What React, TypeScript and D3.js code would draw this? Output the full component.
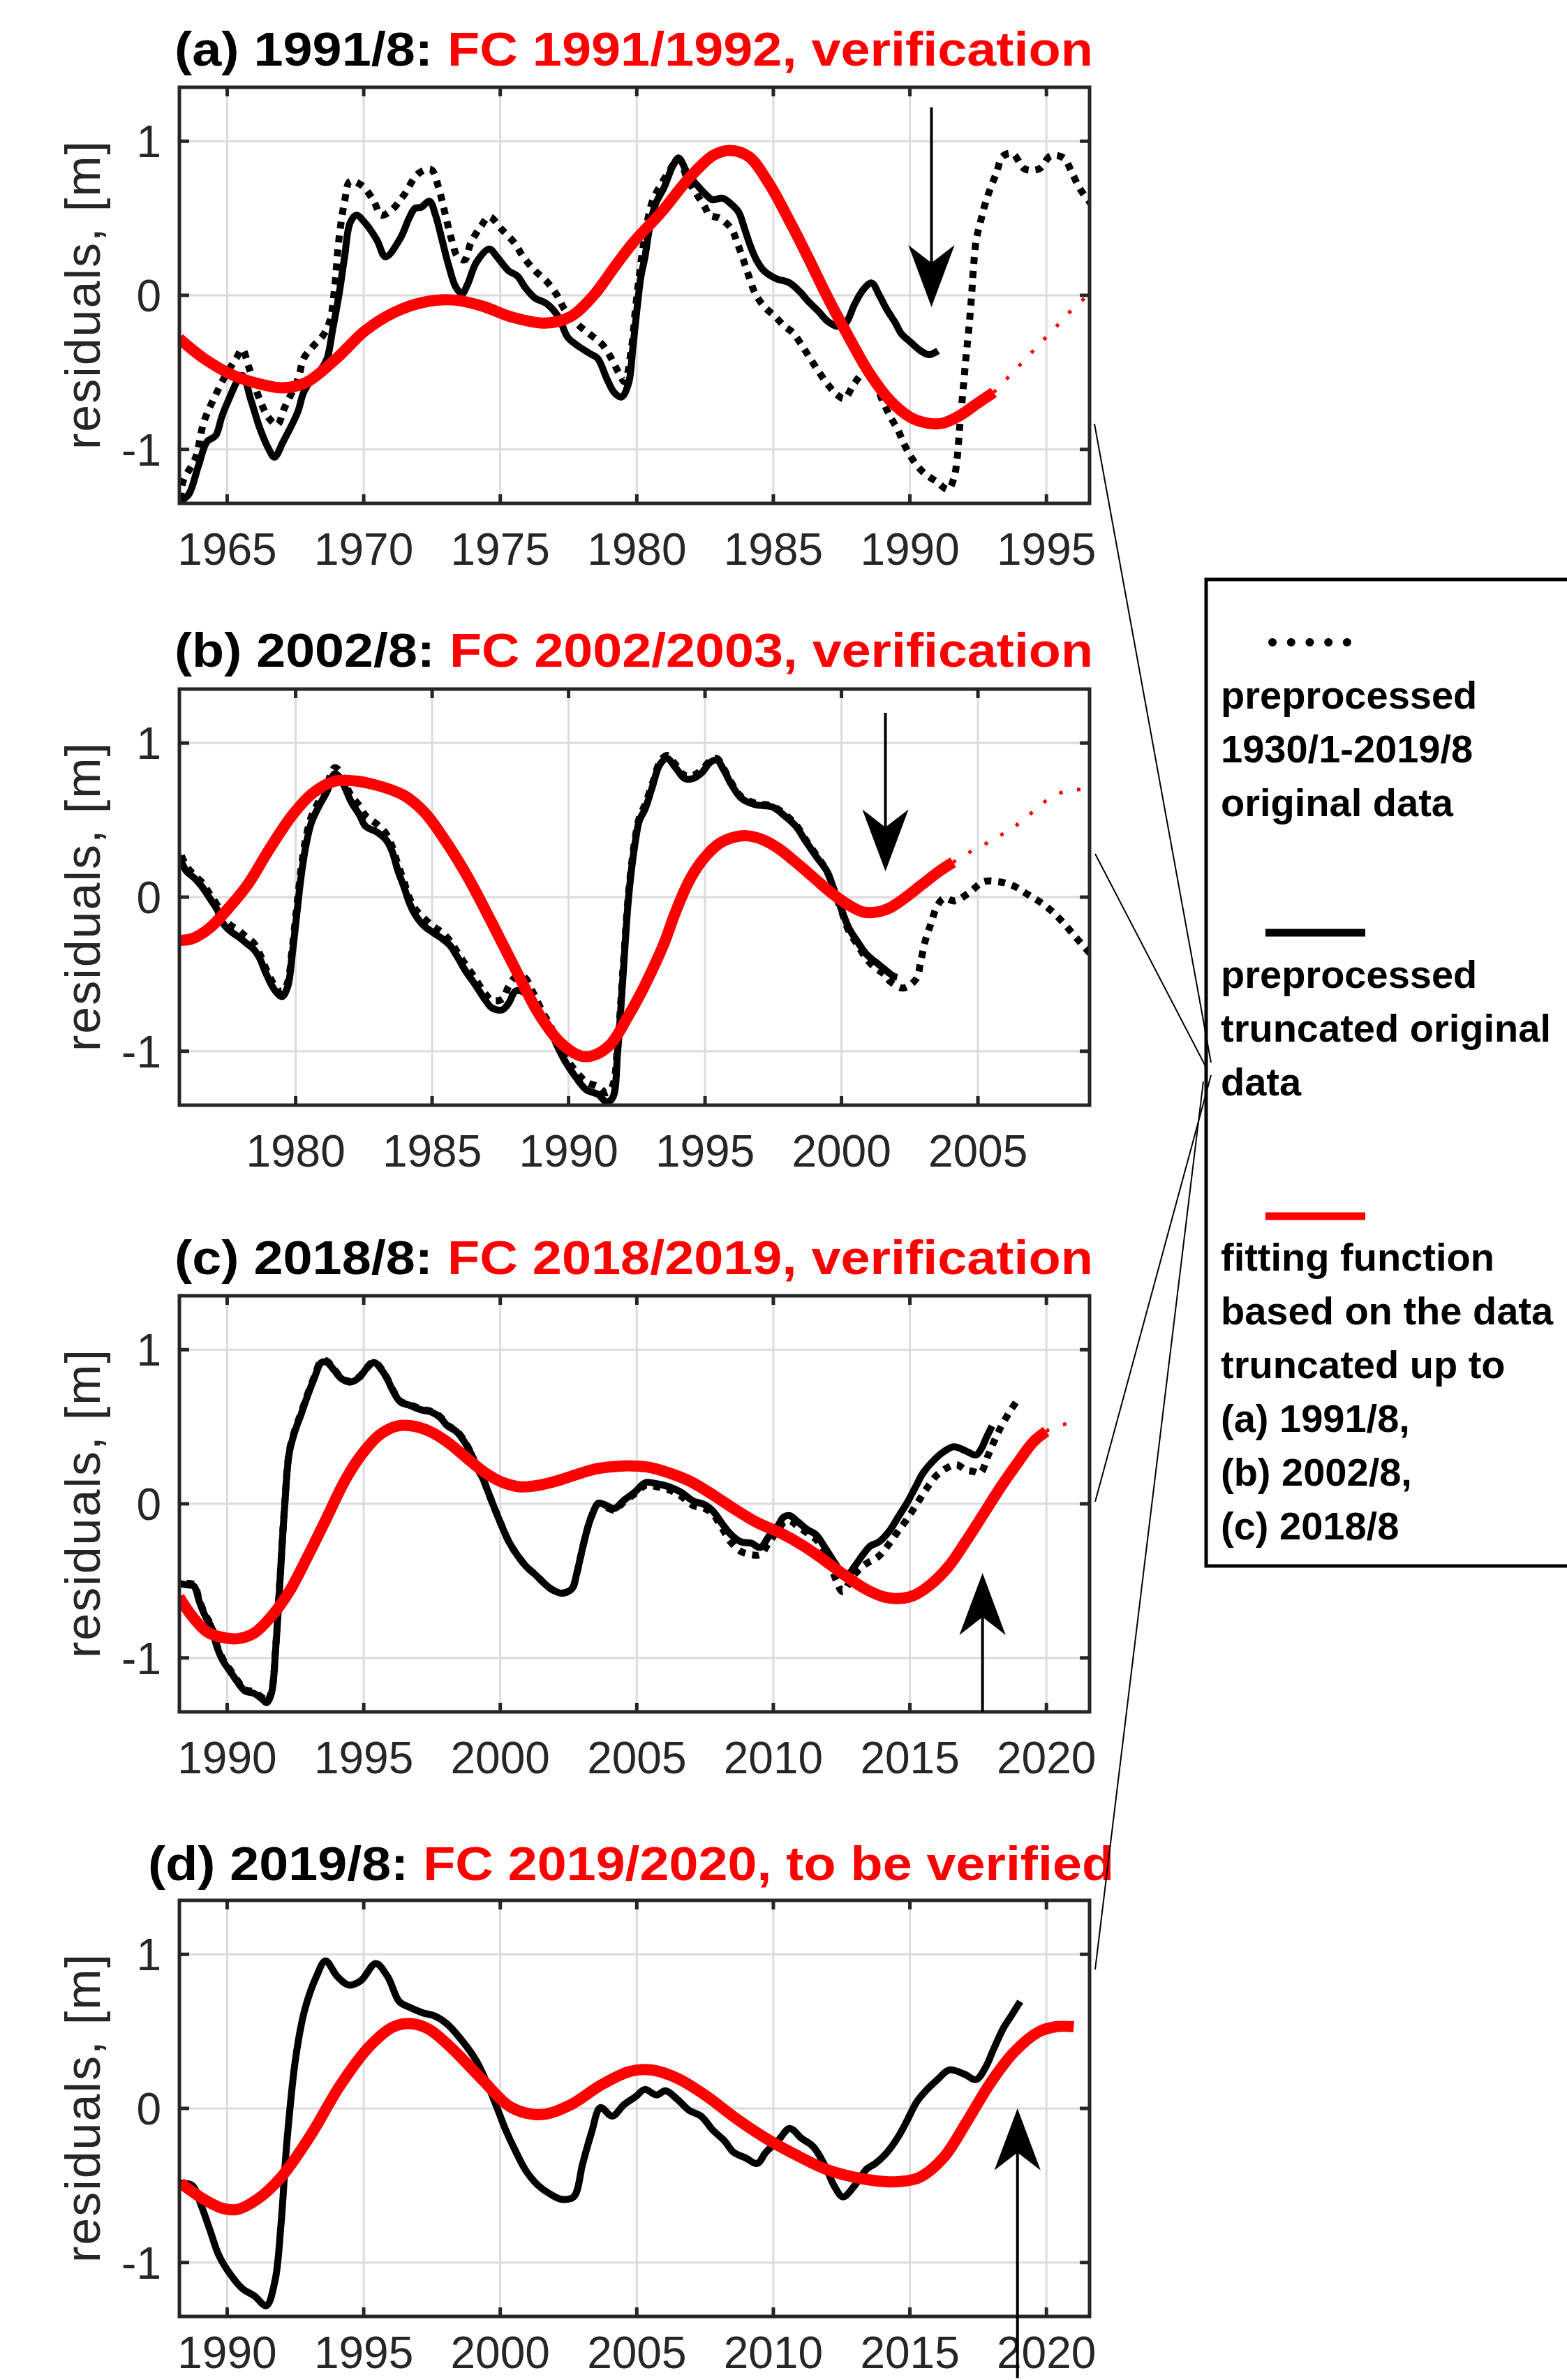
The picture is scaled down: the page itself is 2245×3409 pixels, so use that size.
import React from 'react';
import * as d3 from 'd3';

type P = [number, number];

// ---------------- DATA ----------------
const titleBlack = ['(a) 1991/8: ', '(b) 2002/8: ', '(c) 2018/8: ', '(d) 2019/8: '];
const titleRed = ['FC 1991/1992, verification', 'FC 2002/2003, verification', 'FC 2018/2019, verification', 'FC 2019/2020, to be verified'];

const xTicksA = [1965, 1970, 1975, 1980, 1985, 1990, 1995];
const xTicksB = [1980, 1985, 1990, 1995, 2000, 2005];
const xTicksCD = [1990, 1995, 2000, 2005, 2010, 2015, 2020];
const yTicks = [-1, 0, 1];

// panel (a)
const aFull: P[] = [[1963.0,-1.40],[1963.24,-1.34],[1963.4,-1.20],[1963.83,-1.06],[1964.15,-0.82],[1964.58,-0.645],[1965.0,-0.50],[1965.33,-0.41],[1965.55,-0.35],[1965.8,-0.47],[1966.2,-0.68],[1966.5,-0.79],[1966.83,-0.84],[1967.1,-0.73],[1967.6,-0.54],[1967.8,-0.41],[1968.1,-0.34],[1968.55,-0.25],[1968.77,-0.16],[1968.93,0.04],[1969.09,0.36],[1969.3,0.61],[1969.5,0.74],[1969.95,0.71],[1970.37,0.61],[1970.64,0.52],[1971.0,0.55],[1971.45,0.645],[1972.0,0.79],[1972.47,0.815],[1972.74,0.70],[1972.9,0.59],[1973.06,0.47],[1973.22,0.36],[1973.44,0.25],[1973.7,0.23],[1973.92,0.34],[1974.3,0.45],[1974.6,0.51],[1975.04,0.43],[1975.52,0.34],[1975.84,0.25],[1976.27,0.16],[1976.7,0.09],[1977.08,0.0],[1977.35,-0.09],[1977.78,-0.18],[1978.26,-0.25],[1978.74,-0.32],[1979.07,-0.41],[1979.33,-0.50],[1979.55,-0.56],[1979.8,-0.35],[1979.95,-0.09],[1980.1,0.14],[1980.3,0.39],[1980.57,0.61],[1980.89,0.72],[1981.2,0.81],[1981.53,0.89],[1981.86,0.75],[1982.18,0.66],[1982.5,0.57],[1982.66,0.52],[1983.04,0.50],[1983.47,0.43],[1983.68,0.34],[1983.9,0.23],[1984.1,0.125],[1984.32,0.018],[1984.65,-0.07],[1985.08,-0.14],[1985.4,-0.20],[1985.7,-0.24],[1986.03,-0.32],[1986.35,-0.41],[1986.68,-0.50],[1987.0,-0.58],[1987.33,-0.645],[1987.6,-0.67],[1987.97,-0.57],[1988.35,-0.50],[1988.72,-0.56],[1988.94,-0.66],[1989.26,-0.78],[1989.58,-0.88],[1989.8,-0.97],[1990.12,-1.07],[1990.5,-1.15],[1990.98,-1.21],[1991.4,-1.26],[1991.62,-1.18],[1991.73,-1.06],[1991.83,-0.84],[1991.94,-0.63],[1992.05,-0.41],[1992.16,-0.215],[1992.26,0.0],[1992.32,0.16],[1992.43,0.36],[1992.59,0.48],[1992.75,0.59],[1992.96,0.70],[1993.18,0.80],[1993.39,0.90],[1993.76,0.92],[1994.2,0.82],[1994.73,0.82],[1995.16,0.905],[1995.64,0.89],[1995.9,0.81],[1996.23,0.69],[1996.7,0.58]];
const aTrunc: P[] = [[1963.0,-1.42],[1963.3,-1.34],[1963.6,-1.29],[1963.94,-1.11],[1964.26,-0.95],[1964.58,-0.91],[1964.8,-0.79],[1965.0,-0.70],[1965.55,-0.52],[1965.87,-0.68],[1966.19,-0.86],[1966.5,-0.99],[1966.73,-1.05],[1967.05,-0.95],[1967.37,-0.84],[1967.6,-0.75],[1967.8,-0.63],[1968.12,-0.54],[1968.44,-0.48],[1968.66,-0.41],[1968.87,-0.215],[1969.09,0.0],[1969.3,0.25],[1969.5,0.47],[1969.73,0.52],[1970.05,0.47],[1970.48,0.36],[1970.8,0.25],[1971.34,0.37],[1971.66,0.50],[1971.88,0.565],[1972.09,0.57],[1972.41,0.61],[1972.63,0.52],[1972.84,0.38],[1973.1,0.20],[1973.37,0.054],[1973.6,0.01],[1973.8,0.07],[1974.13,0.215],[1974.6,0.30],[1974.88,0.25],[1975.3,0.16],[1975.63,0.125],[1975.9,0.054],[1976.27,-0.018],[1976.7,-0.054],[1977.13,-0.14],[1977.46,-0.27],[1977.78,-0.32],[1978.3,-0.38],[1978.57,-0.41],[1978.9,-0.54],[1979.17,-0.63],[1979.44,-0.66],[1979.7,-0.57],[1979.85,-0.35],[1980.0,-0.10],[1980.15,0.12],[1980.3,0.25],[1980.46,0.43],[1980.68,0.59],[1981.0,0.70],[1981.32,0.84],[1981.53,0.89],[1981.86,0.79],[1982.18,0.72],[1982.55,0.65],[1982.77,0.62],[1983.14,0.63],[1983.47,0.59],[1983.73,0.54],[1983.95,0.43],[1984.16,0.32],[1984.38,0.23],[1984.65,0.16],[1985.08,0.11],[1985.6,0.08],[1986.0,0.018],[1986.26,-0.036],[1986.63,-0.10],[1987.0,-0.17],[1987.33,-0.20],[1987.65,-0.18],[1987.97,-0.06],[1988.29,0.036],[1988.6,0.08],[1988.88,0.0],[1989.15,-0.09],[1989.47,-0.18],[1989.69,-0.25],[1990.0,-0.30],[1990.39,-0.36],[1990.7,-0.385],[1991.03,-0.36]];
const aFit: P[] = [[1963.24,-0.28],[1964.15,-0.41],[1965.23,-0.52],[1966.3,-0.58],[1967.05,-0.60],[1967.9,-0.565],[1969.0,-0.41],[1970.05,-0.23],[1971.13,-0.11],[1972.2,-0.045],[1973.27,-0.03],[1974.35,-0.07],[1975.4,-0.14],[1976.65,-0.18],[1977.56,-0.14],[1978.42,0.0],[1979.17,0.18],[1979.86,0.34],[1980.9,0.54],[1981.96,0.77],[1982.82,0.91],[1983.41,0.94],[1984.1,0.90],[1984.86,0.72],[1985.6,0.48],[1986.26,0.25],[1987.0,-0.018],[1987.76,-0.27],[1988.5,-0.50],[1989.26,-0.68],[1990.0,-0.79],[1990.65,-0.83],[1991.19,-0.83],[1991.83,-0.78],[1992.48,-0.70],[1993.07,-0.63]];
const aFitExt: P[] = [[1993.07,-0.63],[1993.77,-0.50],[1994.2,-0.42],[1994.62,-0.34],[1995.05,-0.26],[1995.48,-0.18],[1995.9,-0.10],[1996.4,-0.018],[1996.58,0.01]];

// panel (b)
const bFull: P[] = [[1975.5,0.34],[1975.72,0.30],[1976.0,0.20],[1976.3,0.14],[1976.6,0.09],[1976.85,0.02],[1977.12,-0.05],[1977.34,-0.13],[1977.6,-0.18],[1977.93,-0.22],[1978.2,-0.26],[1978.47,-0.30],[1978.69,-0.37],[1978.9,-0.46],[1979.22,-0.57],[1979.5,-0.62],[1979.71,-0.55],[1979.87,-0.34],[1980.03,-0.08],[1980.19,0.17],[1980.36,0.37],[1980.57,0.52],[1980.84,0.62],[1981.16,0.74],[1981.43,0.84],[1981.6,0.82],[1981.81,0.74],[1982.03,0.66],[1982.35,0.59],[1982.56,0.53],[1983.0,0.47],[1983.32,0.41],[1983.53,0.33],[1983.75,0.21],[1983.97,0.10],[1984.18,-0.01],[1984.4,-0.08],[1984.72,-0.14],[1985.04,-0.19],[1985.37,-0.23],[1985.64,-0.28],[1985.9,-0.35],[1986.23,-0.44],[1986.55,-0.52],[1986.88,-0.61],[1987.2,-0.67],[1987.58,-0.66],[1987.8,-0.58],[1988.06,-0.52],[1988.38,-0.52],[1988.7,-0.62],[1989.03,-0.74],[1989.35,-0.84],[1989.57,-0.93],[1989.89,-1.04],[1990.27,-1.13],[1990.65,-1.20],[1991.08,-1.23],[1991.4,-1.27],[1991.62,-1.22],[1991.8,-0.95],[1992.0,-0.45],[1992.2,0.03],[1992.42,0.36],[1992.6,0.52],[1992.8,0.60],[1993.06,0.73],[1993.33,0.87],[1993.6,0.92],[1993.92,0.86],[1994.25,0.79],[1994.57,0.79],[1994.9,0.83],[1995.16,0.88],[1995.43,0.90],[1995.7,0.83],[1995.97,0.74],[1996.34,0.65],[1996.83,0.61],[1997.47,0.59],[1997.9,0.54],[1998.33,0.47],[1998.66,0.38],[1999.09,0.27],[1999.46,0.17],[1999.73,0.04],[2000.0,-0.09],[2000.27,-0.22],[2000.59,-0.31],[2000.91,-0.40],[2001.24,-0.46],[2001.56,-0.50],[2001.8,-0.55],[2002.26,-0.59],[2002.74,-0.53],[2002.9,-0.42],[2003.06,-0.29],[2003.28,-0.17],[2003.5,-0.06],[2003.76,-0.007],[2004.14,-0.025],[2004.68,0.029],[2005.2,0.10],[2005.75,0.10],[2006.29,0.074],[2006.88,0.011],[2007.37,-0.043],[2007.8,-0.106],[2008.23,-0.187],[2008.66,-0.276],[2009.03,-0.35],[2009.3,-0.40]];
const bTrunc: P[] = [[1975.5,0.30],[1975.72,0.26],[1975.99,0.17],[1976.31,0.12],[1976.58,0.065],[1976.85,-0.007],[1977.12,-0.08],[1977.34,-0.17],[1977.6,-0.22],[1977.93,-0.26],[1978.2,-0.30],[1978.47,-0.34],[1978.69,-0.40],[1978.9,-0.49],[1979.22,-0.60],[1979.5,-0.645],[1979.71,-0.58],[1979.87,-0.38],[1980.03,-0.13],[1980.19,0.12],[1980.36,0.32],[1980.57,0.48],[1980.84,0.585],[1981.16,0.69],[1981.43,0.80],[1981.6,0.78],[1981.81,0.71],[1982.03,0.62],[1982.35,0.53],[1982.56,0.46],[1983.0,0.42],[1983.32,0.37],[1983.53,0.30],[1983.75,0.17],[1983.97,0.065],[1984.18,-0.043],[1984.4,-0.12],[1984.72,-0.19],[1985.04,-0.23],[1985.37,-0.27],[1985.64,-0.31],[1985.9,-0.38],[1986.23,-0.48],[1986.55,-0.56],[1986.88,-0.65],[1987.2,-0.72],[1987.58,-0.73],[1987.8,-0.69],[1988.06,-0.61],[1988.38,-0.62],[1988.7,-0.69],[1989.03,-0.78],[1989.35,-0.87],[1989.57,-0.96],[1989.89,-1.07],[1990.27,-1.17],[1990.65,-1.25],[1991.08,-1.28],[1991.4,-1.33],[1991.62,-1.30],[1991.8,-1.0],[1992.0,-0.5],[1992.2,0.0],[1992.42,0.33],[1992.6,0.50],[1992.8,0.57],[1993.06,0.71],[1993.33,0.855],[1993.6,0.90],[1993.92,0.84],[1994.25,0.77],[1994.57,0.77],[1994.9,0.81],[1995.16,0.87],[1995.43,0.89],[1995.7,0.82],[1995.97,0.73],[1996.34,0.64],[1996.83,0.60],[1997.47,0.585],[1997.9,0.53],[1998.33,0.46],[1998.66,0.37],[1999.09,0.26],[1999.46,0.17],[1999.73,0.047],[2000.0,-0.08],[2000.27,-0.20],[2000.59,-0.29],[2000.91,-0.37],[2001.24,-0.42],[2001.56,-0.465],[2001.88,-0.51],[2002.04,-0.52]];
const bFit: P[] = [[1975.72,-0.28],[1976.2,-0.27],[1976.85,-0.20],[1977.5,-0.08],[1978.25,0.083],[1979.0,0.30],[1979.87,0.53],[1980.63,0.675],[1981.38,0.75],[1982.03,0.756],[1982.89,0.73],[1983.97,0.66],[1984.72,0.55],[1985.47,0.37],[1986.34,0.12],[1987.2,-0.17],[1988.06,-0.47],[1988.92,-0.76],[1989.68,-0.94],[1990.43,-1.03],[1990.86,-1.03],[1991.51,-0.96],[1992.16,-0.78],[1992.6,-0.64],[1993.1,-0.46],[1993.5,-0.30],[1993.92,-0.097],[1994.46,0.12],[1995.0,0.26],[1995.54,0.35],[1996.08,0.39],[1996.6,0.397],[1997.15,0.37],[1997.69,0.316],[1998.33,0.226],[1998.98,0.127],[1999.62,0.029],[2000.27,-0.052],[2000.8,-0.097],[2001.29,-0.097],[2001.77,-0.07],[2002.31,-0.007],[2002.96,0.083],[2003.6,0.17],[2004.09,0.226]];
const bFitExt: P[] = [[2004.09,0.226],[2004.57,0.28],[2005.16,0.334],[2005.7,0.388],[2006.18,0.44],[2006.67,0.50],[2007.2,0.585],[2007.69,0.648],[2008.28,0.69],[2008.92,0.70],[2009.09,0.70]];

// panel (c)
const cTrunc: P[] = [[1988.0,-0.51],[1988.24,-0.516],[1988.5,-0.525],[1988.78,-0.534],[1988.99,-0.64],[1989.2,-0.73],[1989.42,-0.80],[1989.63,-0.93],[1989.85,-1.02],[1990.12,-1.09],[1990.39,-1.16],[1990.66,-1.215],[1990.98,-1.23],[1991.3,-1.27],[1991.45,-1.29],[1991.62,-1.23],[1991.78,-0.93],[1991.94,-0.48],[1992.1,-0.03],[1992.27,0.326],[1992.48,0.47],[1992.7,0.577],[1992.91,0.685],[1993.18,0.81],[1993.45,0.917],[1993.66,0.917],[1993.93,0.864],[1994.2,0.81],[1994.52,0.79],[1994.84,0.82],[1995.11,0.88],[1995.38,0.917],[1995.65,0.87],[1995.86,0.81],[1996.08,0.73],[1996.35,0.66],[1996.67,0.64],[1997.1,0.61],[1997.48,0.595],[1997.8,0.56],[1998.07,0.505],[1998.39,0.47],[1998.66,0.41],[1998.93,0.326],[1999.14,0.237],[1999.36,0.165],[1999.68,0.02],[2000.0,-0.12],[2000.32,-0.247],[2000.64,-0.337],[2000.97,-0.41],[2001.29,-0.46],[2001.61,-0.516],[2001.93,-0.56],[2002.26,-0.58],[2002.63,-0.55],[2002.79,-0.46],[2002.95,-0.337],[2003.12,-0.21],[2003.33,-0.086],[2003.6,0.004],[2003.81,-0.005],[2004.19,-0.03],[2004.51,0.02],[2004.92,0.075],[2005.33,0.138],[2005.76,0.129],[2006.19,0.11],[2006.62,0.075],[2007.05,0.02],[2007.48,-0.005],[2007.8,-0.05],[2008.13,-0.13],[2008.45,-0.20],[2008.82,-0.247],[2009.2,-0.256],[2009.52,-0.283],[2009.84,-0.21],[2010.17,-0.14],[2010.38,-0.086],[2010.6,-0.077],[2010.92,-0.12],[2011.24,-0.167],[2011.56,-0.20],[2011.89,-0.283],[2012.21,-0.373],[2012.48,-0.444],[2012.64,-0.48],[2012.96,-0.41],[2013.28,-0.33],[2013.55,-0.274],[2013.87,-0.247],[2014.25,-0.176],[2014.57,-0.086],[2014.89,0.004],[2015.21,0.11],[2015.48,0.20],[2015.86,0.28],[2016.29,0.344],[2016.61,0.37],[2017.04,0.344],[2017.42,0.317],[2017.63,0.362],[2017.79,0.425],[2018.01,0.505]];
const cFull: P[] = [[1988.0,-0.50],[1988.24,-0.506],[1988.5,-0.515],[1988.78,-0.524],[1988.99,-0.63],[1989.2,-0.72],[1989.42,-0.79],[1989.63,-0.92],[1989.85,-1.01],[1990.12,-1.08],[1990.39,-1.15],[1990.66,-1.205],[1990.98,-1.22],[1991.3,-1.26],[1991.45,-1.28],[1991.62,-1.22],[1991.78,-0.92],[1991.94,-0.47],[1992.1,-0.02],[1992.27,0.336],[1992.48,0.48],[1992.7,0.587],[1992.91,0.695],[1993.18,0.82],[1993.45,0.927],[1993.66,0.925],[1993.93,0.87],[1994.2,0.815],[1994.52,0.795],[1994.84,0.825],[1995.11,0.885],[1995.38,0.922],[1995.65,0.875],[1995.86,0.815],[1996.08,0.735],[1996.35,0.665],[1996.67,0.645],[1997.1,0.615],[1997.48,0.60],[1997.8,0.565],[1998.07,0.51],[1998.39,0.475],[1998.66,0.415],[1998.93,0.33],[1999.14,0.24],[1999.36,0.165],[1999.68,0.02],[2000.0,-0.12],[2000.32,-0.247],[2000.64,-0.337],[2000.97,-0.41],[2001.29,-0.46],[2001.61,-0.516],[2001.93,-0.56],[2002.26,-0.58],[2002.63,-0.55],[2002.79,-0.46],[2002.95,-0.337],[2003.12,-0.21],[2003.33,-0.086],[2003.6,0.004],[2003.81,-0.015],[2004.19,-0.04],[2004.51,0.01],[2004.92,0.065],[2005.33,0.12],[2005.76,0.11],[2006.19,0.09],[2006.62,0.05],[2007.05,-0.01],[2007.48,-0.03],[2007.8,-0.07],[2008.13,-0.16],[2008.45,-0.25],[2008.82,-0.31],[2009.2,-0.33],[2009.52,-0.33],[2009.84,-0.25],[2010.17,-0.17],[2010.38,-0.12],[2010.6,-0.11],[2010.92,-0.15],[2011.24,-0.19],[2011.56,-0.23],[2011.89,-0.31],[2012.1,-0.40],[2012.31,-0.50],[2012.53,-0.57],[2012.96,-0.46],[2013.39,-0.39],[2013.82,-0.346],[2014.14,-0.283],[2014.52,-0.19],[2014.89,-0.10],[2015.27,0.004],[2015.59,0.093],[2015.97,0.183],[2016.4,0.237],[2016.72,0.254],[2017.04,0.22],[2017.31,0.21],[2017.58,0.20],[2017.85,0.308],[2018.11,0.416],[2018.38,0.514],[2018.71,0.613],[2019.03,0.694]];
const cFit: P[] = [[1988.24,-0.605],[1988.72,-0.73],[1989.26,-0.83],[1989.8,-0.866],[1990.39,-0.875],[1990.98,-0.84],[1991.62,-0.73],[1992.27,-0.57],[1992.91,-0.355],[1993.66,-0.086],[1994.3,0.147],[1994.95,0.326],[1995.6,0.45],[1996.24,0.505],[1996.78,0.505],[1997.42,0.47],[1998.07,0.40],[1998.82,0.29],[1999.46,0.20],[2000.1,0.138],[2000.75,0.11],[2001.4,0.12],[2002.04,0.147],[2002.79,0.19],[2003.54,0.228],[2004.4,0.245],[2005.0,0.245],[2005.44,0.237],[2006.19,0.20],[2006.94,0.147],[2007.8,0.057],[2008.56,-0.032],[2009.41,-0.122],[2010.27,-0.19],[2011.03,-0.265],[2011.78,-0.355],[2012.53,-0.453],[2013.28,-0.543],[2013.93,-0.597],[2014.46,-0.615],[2015.11,-0.597],[2015.75,-0.525],[2016.4,-0.41],[2017.04,-0.247],[2017.69,-0.068],[2018.33,0.11],[2018.97,0.272],[2019.51,0.40],[2019.99,0.47]];
const cFitExt: P[] = [[2019.99,0.47],[2020.26,0.496],[2020.85,0.523],[2021.0,0.525]];

// panel (d)
const dFull: P[] = [[1988.0,-0.48],[1988.29,-0.484],[1988.72,-0.50],[1989.05,-0.63],[1989.37,-0.79],[1989.7,-0.955],[1990.13,-1.08],[1990.56,-1.17],[1991.0,-1.217],[1991.43,-1.28],[1991.75,-1.12],[1991.97,-0.755],[1992.19,-0.21],[1992.51,0.33],[1992.84,0.64],[1993.27,0.857],[1993.6,0.957],[1994.03,0.857],[1994.46,0.80],[1994.9,0.83],[1995.44,0.94],[1995.87,0.857],[1996.3,0.694],[1996.63,0.66],[1997.17,0.62],[1997.6,0.60],[1998.04,0.55],[1998.69,0.42],[1999.12,0.31],[1999.55,0.15],[1999.88,0.005],[2000.2,-0.14],[2000.53,-0.266],[2000.96,-0.41],[2001.39,-0.50],[2001.83,-0.556],[2002.26,-0.59],[2002.69,-0.574],[2003.02,-0.357],[2003.34,-0.158],[2003.67,0.005],[2004.1,-0.05],[2004.53,0.024],[2004.97,0.078],[2005.29,0.123],[2005.72,0.087],[2006.05,0.114],[2006.48,0.06],[2006.92,-0.013],[2007.35,-0.05],[2007.78,-0.14],[2008.22,-0.212],[2008.54,-0.284],[2008.97,-0.32],[2009.41,-0.357],[2009.73,-0.284],[2010.16,-0.212],[2010.6,-0.13],[2011.03,-0.194],[2011.46,-0.248],[2011.9,-0.375],[2012.22,-0.50],[2012.55,-0.574],[2012.98,-0.50],[2013.42,-0.393],[2013.74,-0.357],[2014.17,-0.284],[2014.6,-0.176],[2014.93,-0.067],[2015.25,0.042],[2015.58,0.114],[2016.01,0.187],[2016.44,0.25],[2016.99,0.223],[2017.42,0.187],[2017.75,0.26],[2018.07,0.386],[2018.4,0.513],[2018.72,0.603],[2019.04,0.694]];
const dFit: P[] = [[1988.29,-0.484],[1989.15,-0.59],[1989.8,-0.647],[1990.35,-0.656],[1991.1,-0.59],[1991.97,-0.447],[1993.05,-0.176],[1994.14,0.15],[1995.22,0.404],[1996.09,0.53],[1996.74,0.55],[1997.39,0.513],[1998.25,0.386],[1999.34,0.187],[2000.42,0.005],[2001.5,-0.04],[2002.58,0.024],[2003.67,0.15],[2004.75,0.24],[2005.51,0.25],[2006.48,0.196],[2007.57,0.078],[2008.65,-0.067],[2009.73,-0.194],[2010.81,-0.30],[2011.9,-0.393],[2012.98,-0.447],[2014.06,-0.475],[2014.6,-0.475],[2015.36,-0.447],[2016.23,-0.32],[2017.09,-0.085],[2017.96,0.168],[2018.83,0.368],[2019.7,0.495],[2020.34,0.53],[2021.0,0.53]];

// arrows: year, start value, tip value
const arrowA = { year: 1990.79, from: 1.22, tip: -0.063, dir: 'down' };
const arrowB = { year: 2001.61, from: 1.196, tip: 0.18, dir: 'down' };
const arrowC = { year: 2017.66, from: -1.35, tip: -0.462, dir: 'up' };
const arrowD = { year: 2018.94, from: -1.75, tip: -0.013, dir: 'up' };

const legendDotted = ['preprocessed', '1930/1-2019/8', 'original data'];
const legendSolid = ['preprocessed', 'truncated original', 'data'];
const legendRed = ['fitting function', 'based on the data', 'truncated up to', '(a) 1991/8,', '(b) 2002/8,', '(c) 2018/8'];

// ---------------- LAYOUT ----------------
const W = 2245, H = 3409;
const AX_L = 257, AX_R = 1561, AX_H = 596;
const AX = '#262626';
const TICK_FONT = "'Liberation Sans', Arial, Helvetica, sans-serif";

type Panel = {
  top: number; domain: [number, number]; ticks: number[];
  full?: P[]; trunc: P[]; fit: P[]; fitExt?: P[];
  arrow: { year: number; from: number; tip: number; dir: string };
  titleX: number; titleLen: number; titleY: number; tickDy: number;
};

const panels: Panel[] = [
  { top: 125, domain: [1963.25, 1996.58], ticks: xTicksA, full: aFull, trunc: aTrunc, fit: aFit, fitExt: aFitExt, arrow: arrowA, titleX: 250, titleLen: 1316, titleY: 94, tickDy: 88 },
  { top: 987, domain: [1975.74, 2009.09], ticks: xTicksB, full: bFull, trunc: bTrunc, fit: bFit, fitExt: bFitExt, arrow: arrowB, titleX: 250, titleLen: 1316, titleY: 955, tickDy: 88 },
  { top: 1856, domain: [1988.25, 2021.58], ticks: xTicksCD, full: cFull, trunc: cTrunc, fit: cFit, fitExt: cFitExt, arrow: arrowC, titleX: 250, titleLen: 1316, titleY: 1825, tickDy: 88 },
  { top: 2722, domain: [1988.25, 2021.58], ticks: xTicksCD, trunc: dFull, fit: dFit, arrow: arrowD, titleX: 212, titleLen: 1384, titleY: 2693, tickDy: 74 },
];

function PanelView({ p, i }: { p: Panel; i: number }) {
  const x = d3.scaleLinear().domain(p.domain).range([AX_L, AX_R]);
  const y = d3.scaleLinear().domain([-1.35, 1.35]).range([p.top + AX_H, p.top]);
  const line = d3.line<P>().x(d => x(d[0])).y(d => y(d[1])).curve(d3.curveCatmullRom.alpha(0.5));
  const bottom = p.top + AX_H;
  const clip = `clip-${i}`;
  const a = p.arrow;
  const ax = x(a.year);
  const tipY = y(a.tip);
  const HL = 83, HW = 31, NOTCH = 24;
  let shaft: [number, number];
  let head: string;
  if (a.dir === 'down') {
    shaft = [y(a.from), tipY - HL + NOTCH];
    head = `${ax},${tipY} ${ax - HW},${tipY - HL} ${ax},${tipY - HL + NOTCH} ${ax + HW},${tipY - HL}`;
  } else {
    const startPx = Math.min(y(a.from), H);
    shaft = [startPx, tipY + HL - NOTCH];
    head = `${ax},${tipY} ${ax - HW},${tipY + HL} ${ax},${tipY + HL - NOTCH} ${ax + HW},${tipY + HL}`;
  }
  return (
    <g>
      <defs>
        <clipPath id={clip}>
          <rect x={AX_L} y={p.top} width={AX_R - AX_L} height={AX_H} />
        </clipPath>
      </defs>
      {p.ticks.map(t => (
        <line key={'gx' + t} x1={x(t)} x2={x(t)} y1={p.top} y2={bottom} stroke="#dcdcdc" strokeWidth={3} />
      ))}
      {yTicks.map(t => (
        <line key={'gy' + t} x1={AX_L} x2={AX_R} y1={y(t)} y2={y(t)} stroke="#dcdcdc" strokeWidth={3} />
      ))}
      <g clipPath={`url(#${clip})`}>
        {p.full && (
          <path d={line(p.full) || ''} fill="none" stroke="#000" strokeWidth={10} strokeDasharray="10 10" />
        )}
        <path d={line(p.trunc) || ''} fill="none" stroke="#000" strokeWidth={10} strokeLinejoin="round" />
        <path d={line(p.fit) || ''} fill="none" stroke="#ff0000" strokeWidth={16} strokeLinejoin="round" />
        {p.fitExt && (
          <path d={line(p.fitExt) || ''} fill="none" stroke="#ff0000" strokeWidth={5} strokeDasharray="5 21" />
        )}
      </g>
      <rect x={AX_L} y={p.top} width={AX_R - AX_L} height={AX_H} fill="none" stroke={AX} strokeWidth={5} />
      {p.ticks.map(t => (
        <g key={'t' + t}>
          <line x1={x(t)} x2={x(t)} y1={bottom} y2={bottom - 13} stroke={AX} strokeWidth={5} />
          <line x1={x(t)} x2={x(t)} y1={p.top} y2={p.top + 13} stroke={AX} strokeWidth={5} />
          <text x={x(t)} y={bottom + p.tickDy} textAnchor="middle" fontFamily={TICK_FONT} fontSize={64} fill={AX}>{t}</text>
        </g>
      ))}
      {yTicks.map(t => (
        <g key={'yt' + t}>
          <line x1={AX_L} x2={AX_L + 14} y1={y(t)} y2={y(t)} stroke={AX} strokeWidth={5} />
          <line x1={AX_R} x2={AX_R - 14} y1={y(t)} y2={y(t)} stroke={AX} strokeWidth={5} />
          <text x={231} y={y(t) + 23} textAnchor="end" fontFamily={TICK_FONT} fontSize={64} fill={AX}>{t < 0 ? '-' + Math.abs(t) : String(t)}</text>
        </g>
      ))}
      <text x={143} y={p.top + AX_H / 2} transform={`rotate(-90 143 ${p.top + AX_H / 2})`} textAnchor="middle"
        fontFamily={TICK_FONT} fontSize={70} fill={AX} textLength={442} lengthAdjust="spacing">residuals, [m]</text>
      <text x={p.titleX} y={p.titleY} fontFamily={TICK_FONT} fontWeight="bold" fontSize={68}
        textLength={p.titleLen} lengthAdjust="spacingAndGlyphs">
        <tspan fill="#000">{titleBlack[i]}</tspan>
        <tspan fill="#ff0000">{titleRed[i]}</tspan>
      </text>
      <line x1={ax} x2={ax} y1={shaft[0]} y2={shaft[1]} stroke="#000" strokeWidth={4} />
      <polygon points={head} fill="#000" stroke="#000" strokeWidth={2} strokeLinejoin="miter" />
    </g>
  );
}

function Legend() {
  const LX = 1749;
  const LF = "'Liberation Sans', Arial, sans-serif";
  const txt = (lines: string[], y0: number) =>
    lines.map((s, k) => (
      <text key={s + k} x={LX} y={y0 + k * 77} fontFamily={LF} fontWeight="bold" fontSize={56} fill="#000">{s}</text>
    ));
  return (
    <g>
      <rect x={1728} y={830} width={540} height={1413} fill="#fff" stroke="#000" strokeWidth={5} />
      <line x1={1823} x2={1956} y1={920} y2={920} stroke="#000" strokeWidth={12} strokeLinecap="round" strokeDasharray="0.1 26.6" />
      {txt(legendDotted, 1015)}
      <line x1={1813} x2={1956} y1={1336} y2={1336} stroke="#000" strokeWidth={11} />
      {txt(legendSolid, 1415)}
      <line x1={1813} x2={1956} y1={1742} y2={1742} stroke="#ff0000" strokeWidth={11} />
      {txt(legendRed, 1820)}
    </g>
  );
}

const connectors: [number, number, number, number][] = [
  [1568, 607, 1735, 1522],
  [1569, 1223, 1727, 1527],
  [1569, 2151, 1735, 1540],
  [1569, 2821, 1724, 1549],
];

export default function App() {
  return (
    <svg width={W} height={H} viewBox={`0 0 ${W} ${H}`} style={{ position: 'absolute', left: 0, top: 0, background: '#fff' }}>
      <rect x={0} y={0} width={W} height={H} fill="#fff" />
      {panels.map((p, i) => <PanelView key={i} p={p} i={i} />)}
      <Legend />
      {connectors.map((c, k) => (
        <line key={k} x1={c[0]} y1={c[1]} x2={c[2]} y2={c[3]} stroke="#000" strokeWidth={2} />
      ))}
    </svg>
  );
}
